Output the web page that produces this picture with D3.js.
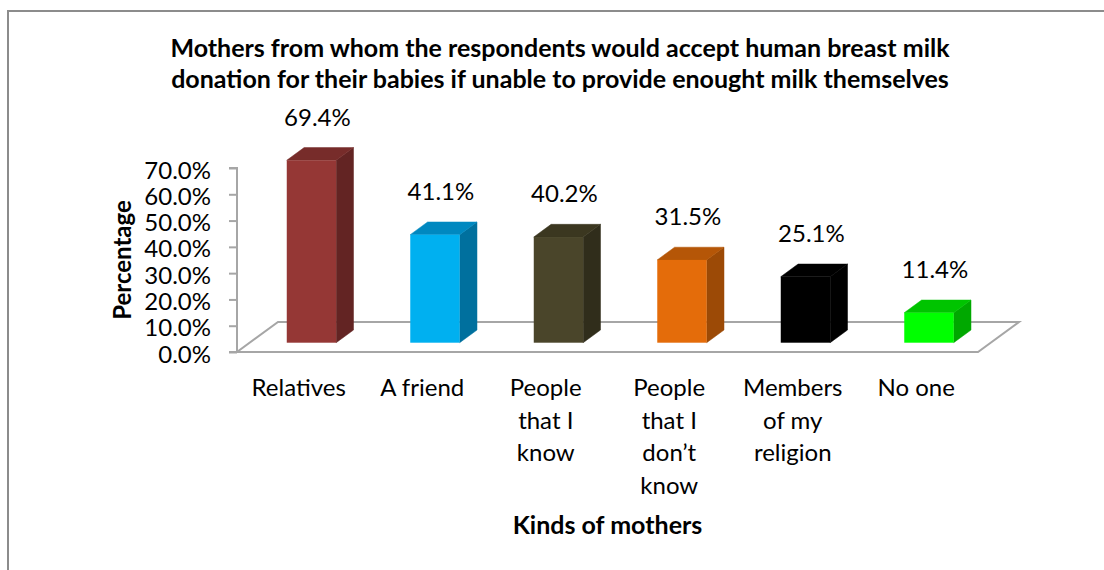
<!DOCTYPE html>
<html>
<head>
<meta charset="utf-8">
<script src="https://cdn.jsdelivr.net/npm/d3@7"></script>
<style>
  html, body { margin: 0; padding: 0; background: #fff; }
  svg { display: block; }
  text { font-family: Lato, "Noto Sans", sans-serif; fill: #000; }
</style>
</head>
<body>
<svg id="chart" width="1104" height="570"></svg>
<script>
// ---- data ----
const categories = ["Relatives", "A friend", "People that I know", "People that I don’t know", "Members of my religion", "No one"];
const categoryLines = [["Relatives"], ["A friend"], ["People", "that I", "know"], ["People", "that I", "don’t", "know"], ["Members", "of my", "religion"], ["No one"]];
const values = [69.4, 41.1, 40.2, 31.5, 25.1, 11.4];
const yTicks = [0, 10, 20, 30, 40, 50, 60, 70];
const frontColors = ["#953735", "#00B0F0", "#4A452A", "#E46C0A", "#000000", "#00FF00"];
const sideColors  = ["#632423", "#00709E", "#302D1B", "#9C4A06", "#000000", "#00A800"];
const topColors   = ["#772C2A", "#0088C0", "#3B3720", "#B55607", "#000000", "#00C400"];
const titleLines = ["Mothers from whom the respondents would accept human breast milk", "donation for their babies if unable to provide enought milk themselves"];
const yTitle = "Percentage";
const xTitle = "Kinds of mothers";

// ---- layout ----
const svg = d3.select("#chart");
const W = 1104, H = 570;
const floorLeft = 237, floorRight = 978, floorFront = 352, floorTop = 168;
const depthDx = 41, depthDy = -30;          // floor depth vector
const barFrontFrac = 0.31, barDepthFrac = 0.423;

const x = d3.scaleBand().domain(categories).range([floorLeft, floorRight]).padding(0);
const y = d3.scaleLinear().domain([0, 70]).range([floorFront, floorTop]);
const barW = x.bandwidth() * 0.4;

// chart border (top & left visible)
svg.append("path")
  .attr("d", `M8,${H + 5} L8,11 L${W + 5},11`)
  .attr("fill", "none").attr("stroke", "#8c8c8c").attr("stroke-width", 2);

// title
const title = svg.append("text").attr("text-anchor", "middle")
  .style("font-weight", "bold").style("font-size", "25px");
titleLines.forEach((t, i) => {
  title.append("tspan").attr("x", 560).attr("y", 56.5 + i * 31.7).text(t);
});

// floor
const fl = [
  [floorLeft, floorFront], [floorRight, floorFront],
  [floorRight + depthDx, floorFront + depthDy], [floorLeft + depthDx, floorFront + depthDy]
];
svg.append("path").attr("d", d3.line()(fl) + "Z")
  .attr("fill", "none").attr("stroke", "#a6a6a6").attr("stroke-width", 2);

// y axis
const yAxis = d3.axisLeft(y).tickValues(yTicks).tickSize(8).tickFormat(d => d.toFixed(1) + "%");
const gy = svg.append("g").attr("transform", `translate(${floorLeft},0)`).call(yAxis);
gy.select(".domain").attr("stroke", "#a6a6a6").attr("stroke-width", 2).attr("d", `M-8,${floorTop}H0V${floorFront}H-8`);
gy.selectAll(".tick line").attr("stroke", "#a6a6a6").attr("stroke-width", 2);
gy.selectAll(".tick text").attr("x", -26).attr("dy", "0.42em")
  .style("font-family", "Lato, 'Noto Sans', sans-serif").style("font-size", "24px").attr("fill", "#000");

// bars
const fdx = depthDx * barFrontFrac, fdy = depthDy * barFrontFrac;
const bdx = depthDx * barDepthFrac, bdy = depthDy * barDepthFrac;
const bars = svg.append("g");
categories.forEach((c, i) => {
  const cx = x(c) + x.bandwidth() / 2 + fdx;
  const x0 = cx - barW / 2, x1 = cx + barW / 2;
  const yb = y(0) + fdy, yt = y(values[i]) + fdy;
  const g = bars.append("g");
  // side
  g.append("path").attr("d", d3.line()([[x1, yb], [x1, yt], [x1 + bdx, yt + bdy], [x1 + bdx, yb + bdy]]) + "Z")
    .attr("fill", sideColors[i]).attr("stroke", sideColors[i]).attr("stroke-width", 0.5);
  // top
  g.append("path").attr("d", d3.line()([[x0, yt], [x1, yt], [x1 + bdx, yt + bdy], [x0 + bdx, yt + bdy]]) + "Z")
    .attr("fill", topColors[i]).attr("stroke", topColors[i]).attr("stroke-width", 0.5);
  // front
  g.append("rect").attr("x", x0).attr("y", yt).attr("width", barW).attr("height", yb - yt)
    .attr("fill", frontColors[i]);
  // value label
  svg.append("text").attr("text-anchor", "middle")
    .attr("x", cx + 6).attr("y", yt + bdy - 22)
    .style("font-size", "24px").text(values[i].toFixed(1) + "%");
});

// category labels
categories.forEach((c, i) => {
  const t = svg.append("text").attr("text-anchor", "middle").style("font-size", "24px");
  categoryLines[i].forEach((ln, j) => {
    t.append("tspan").attr("x", x(c) + x.bandwidth() / 2).attr("y", 396 + j * 32.5).text(ln);
  });
});

// axis titles
svg.append("text").attr("text-anchor", "middle")
  .attr("transform", `translate(131,${(floorTop + floorFront) / 2}) rotate(-90)`)
  .style("font-weight", "bold").style("font-size", "24px").text(yTitle);
svg.append("text").attr("text-anchor", "middle")
  .attr("x", (floorLeft + floorRight) / 2).attr("y", 534)
  .style("font-weight", "bold").style("font-size", "25px").text(xTitle);
</script>
</body>
</html>
